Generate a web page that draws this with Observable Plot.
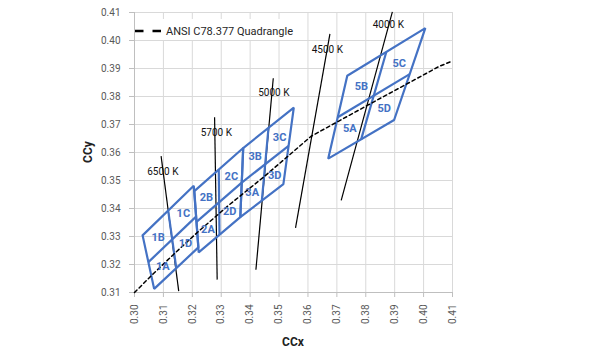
<!DOCTYPE html>
<html>
<head>
<meta charset="utf-8">
<script src="https://cdn.jsdelivr.net/npm/d3@7"></script>
<script src="https://cdn.jsdelivr.net/npm/@observablehq/plot@0.6"></script>
<style>
  html, body { margin: 0; padding: 0; background: white; }
  #chart { width: 591px; height: 354px; }
</style>
</head>
<body>
<div id="chart"></div>
<script>
// Axis ticks
const xTicks = [0.30, 0.31, 0.32, 0.33, 0.34, 0.35, 0.36, 0.37, 0.38, 0.39, 0.40, 0.41];
const yTicks = [0.31, 0.32, 0.33, 0.34, 0.35, 0.36, 0.37, 0.38, 0.39, 0.40, 0.41];

// ANSI quadrangles (corners: top-left, top-right, bottom-right, bottom-left)
const quadNames = ["6500K", "5700K", "5000K", "4000K"];
const quadX = [
  [0.3028, 0.3205, 0.3221, 0.3068],
  [0.3207, 0.3376, 0.3366, 0.3222],
  [0.3376, 0.3551, 0.3515, 0.3366],
  [0.3736, 0.4006, 0.3898, 0.3670]
];
const quadY = [
  [0.3304, 0.3481, 0.3261, 0.3113],
  [0.3462, 0.3616, 0.3369, 0.3243],
  [0.3616, 0.3760, 0.3487, 0.3369],
  [0.3874, 0.4044, 0.3716, 0.3578]
];

// Sub-bin dividers
const divX1 = [0.3048, 0.31165, 0.32145, 0.32915, 0.3371, 0.34635, 0.3703, 0.3871];
const divY1 = [0.32085, 0.33925, 0.33525, 0.3539, 0.34925, 0.3688, 0.3726, 0.3959];
const divX2 = [0.3213, 0.31445, 0.3371, 0.3294, 0.3533, 0.34405, 0.3952, 0.3784];
const divY2 = [0.3371, 0.3187, 0.34925, 0.3306, 0.36235, 0.3428, 0.3880, 0.3647];

// Bin labels
const binNames = ["1A","1B","1C","1D","2A","2B","2C","2D","3A","3B","3C","3D","5A","5B","5C","5D"];
const binX = [0.3098,0.3082,0.3169,0.3176,0.3254,0.3249,0.3335,0.3329,0.3407,0.3417,0.3502,0.3485,0.3745,0.3785,0.3916,0.3864];
const binY = [0.3194,0.3296,0.3381,0.3276,0.3325,0.3440,0.3514,0.3390,0.3456,0.3586,0.3655,0.3518,0.3685,0.3837,0.3919,0.3758];

// Dashed locus line
const locusX = [0.3000, 0.3064, 0.3135, 0.3221, 0.3324, 0.3451, 0.3611, 0.3805, 0.4053, 0.4100];
const locusY = [0.3100, 0.3166, 0.3236, 0.3318, 0.3410, 0.3516, 0.3658, 0.3768, 0.3907, 0.3927];

// Isotemperature lines
const isoNames = ["6500 K", "5700 K", "5000 K", "4500 K", "4000 K"];
const isoX1 = [0.3092, 0.3277, 0.3480, 0.3676, 0.3892];
const isoY1 = [0.3587, 0.3726, 0.3865, 0.4024, 0.4102];
const isoX2 = [0.3153, 0.3286, 0.3420, 0.3557, 0.3715];
const isoY2 = [0.3105, 0.3146, 0.3181, 0.3331, 0.3429];
const isoLabelX = [0.3098, 0.3283, 0.3482, 0.3667, 0.3878];
const isoLabelY = [0.3530, 0.3670, 0.3813, 0.3968, 0.4056];

// Build tables
const quadPts = [];
quadNames.forEach((n, i) => {
  for (let k = 0; k <= 4; k++) quadPts.push({q: n, x: quadX[i][k % 4], y: quadY[i][k % 4]});
});
const dividers = divX1.map((d, i) => ({x1: divX1[i], y1: divY1[i], x2: divX2[i], y2: divY2[i]}));
const bins = binNames.map((n, i) => ({n, x: binX[i], y: binY[i]}));
const locus = locusX.map((x, i) => ({x, y: locusY[i]}));
const iso = isoNames.map((n, i) => ({n, x1: isoX1[i], y1: isoY1[i], x2: isoX2[i], y2: isoY2[i], lx: isoLabelX[i], ly: isoLabelY[i]}));

const blue = "#4472C4";
const plot = Plot.plot({
  width: 591,
  height: 354,
  marginLeft: 134,
  marginRight: 139,
  marginTop: 12,
  marginBottom: 62,
  style: {fontFamily: "Roboto, sans-serif", background: "white"},
  x: {domain: [0.30, 0.41], label: null},
  y: {domain: [0.31, 0.41], label: null},
  marks: [
    Plot.gridX(xTicks, {stroke: "#d9d9d9", strokeOpacity: 1}),
    Plot.gridY(yTicks, {stroke: "#d9d9d9", strokeOpacity: 1}),
    Plot.ruleX([0.30], {stroke: "#bfbfbf"}),
    Plot.ruleY([0.31], {stroke: "#bfbfbf"}),
    Plot.axisX(xTicks, {tickFormat: d3.format(".2f"), tickRotate: -90, tickSize: 5, tickPadding: 7, fontSize: 10, fill: "#595959", stroke: "#bfbfbf", label: null}),
    Plot.axisY(yTicks, {tickFormat: d3.format(".2f"), tickSize: 5, tickPadding: 9, fontSize: 10, fill: "#595959", stroke: "#bfbfbf", label: null}),
    Plot.link(iso, {x1: "x1", y1: "y1", x2: "x2", y2: "y2", stroke: "black", strokeWidth: 1.2}),
    Plot.line(quadPts, {x: "x", y: "y", z: "q", stroke: blue, strokeWidth: 2.2, strokeLinejoin: "miter"}),
    Plot.link(dividers, {x1: "x1", y1: "y1", x2: "x2", y2: "y2", stroke: blue, strokeWidth: 2.2}),
    Plot.line(locus, {x: "x", y: "y", stroke: "black", strokeWidth: 1.5, strokeDasharray: "3.5,3"}),
    Plot.text(iso, {x: "lx", y: "ly", text: "n", fontSize: 10, fill: "#111", textAnchor: "middle"}),
    Plot.text(bins, {x: "x", y: "y", text: "n", fontSize: 11, fontWeight: "bold", fill: blue, textAnchor: "middle"})
  ]
});

const svg = d3.select(plot);
// Legend
const lg = svg.append("g");
lg.append("rect").attr("x", 135).attr("y", 19).attr("width", 166).attr("height", 21).attr("fill", "white");
lg.append("line").attr("x1", 135).attr("x2", 162).attr("y1", 31).attr("y2", 31)
  .attr("stroke", "black").attr("stroke-width", 2.5).attr("stroke-dasharray", "8.5,9");
lg.append("text").attr("x", 166).attr("y", 31).attr("dy", "0.35em").attr("text-anchor", "start")
  .attr("font-size", 11).attr("fill", "#262626").text("ANSI C78.377 Quadrangle");
// Axis titles
svg.append("text").attr("x", 293).attr("y", 342).attr("dy", "0.35em").attr("text-anchor", "middle")
  .attr("font-size", 12).attr("font-weight", "bold").attr("fill", "#222").text("CCx");
svg.append("text").attr("transform", "translate(88,152) rotate(-90)").attr("dy", "0.35em").attr("text-anchor", "middle")
  .attr("font-size", 12).attr("font-weight", "bold").attr("fill", "#222").text("CCy");

document.getElementById("chart").appendChild(plot);
</script>
</body>
</html>
